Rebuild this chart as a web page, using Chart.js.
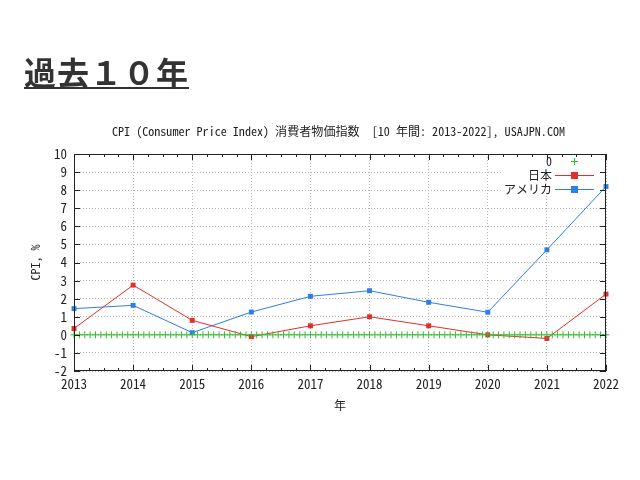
<!DOCTYPE html>
<html>
<head>
<meta charset="utf-8">
<script src="https://cdn.jsdelivr.net/npm/chart.js@4/dist/chart.umd.min.js"></script>
<style>
  html, body { margin: 0; padding: 0; background: #fff; }
  #wrap { position: relative; width: 640px; height: 480px; overflow: hidden; }
  #heading {
    position: absolute; left: 24px; top: 52px;
    font-family: "Noto Sans CJK JP", sans-serif; font-weight: bold;
    font-size: 32px; line-height: 38px; color: #333;
    text-decoration: underline; text-decoration-thickness: 2px; text-underline-offset: 2px;
    letter-spacing: 1px;
  }
  canvas { position: absolute; left: 0; top: 0; }
</style>
</head>
<body>
<div id="wrap">
  <canvas id="c" width="640" height="480"></canvas>
  <div id="heading">過去１０年</div>
</div>
<script>
// ---- data ----
const years = [2013, 2014, 2015, 2016, 2017, 2018, 2019, 2020, 2021, 2022];
const japanCPI = [0.35, 2.75, 0.8, -0.1, 0.5, 1.0, 0.5, 0.0, -0.2, 2.25];
const usaCPI = [1.45, 1.63, 0.12, 1.26, 2.13, 2.44, 1.8, 1.25, 4.7, 8.2];
const zeroValue = 0;          // the "0" reference function
const zeroSamples = 100;      // gnuplot default sampling of a function
const yTicks = [-2, -1, 0, 1, 2, 3, 4, 5, 6, 7, 8, 9, 10];
const seriesNames = ['0', '日本', 'アメリカ'];
const chartTitle = 'CPI (Consumer Price Index) 消費者物価指数  [10 年間: 2013-2022], USAJPN.COM';
const yTitle = 'CPI, %';
const xTitle = '年';

const xMin = years[0], xMax = years[years.length - 1];
const zeroPoints = [];
for (let i = 0; i < zeroSamples; i++) {
  zeroPoints.push({ x: xMin + (xMax - xMin) * i / (zeroSamples - 1), y: zeroValue });
}
const toXY = (arr) => years.map((yr, i) => ({ x: yr, y: arr[i] }));

const RED = '#e0302a', BLUE = '#2f7de8', GREEN = '#33bb33';
const mono = '"Noto Sans Mono CJK JP", "Noto Sans CJK JP", "Liberation Sans Narrow", sans-serif';

function fitText(ctx, text, x, y, width) {
  const w = ctx.measureText(text).width;
  ctx.save();
  ctx.translate(x, y);
  ctx.scale(width / w, 1);
  ctx.fillText(text, 0, 0);
  ctx.restore();
}

const deco = {
  id: 'deco',
  beforeDatasetsDraw(chart) {
    const ctx = chart.ctx;
    ctx.save();
    ctx.fillStyle = '#fff';
    ctx.fillRect(503, 155, 98, 41);
    ctx.restore();
  },
  afterDatasetsDraw(chart) {
    const ctx = chart.ctx, a = chart.chartArea;
    const xs = chart.scales.x, ys = chart.scales.y;
    ctx.save();
    // frame
    ctx.strokeStyle = '#222'; ctx.lineWidth = 1;
    ctx.strokeRect(Math.round(a.left) + 0.5, Math.round(a.top) + 0.5,
                   Math.round(a.right - a.left) - 1, Math.round(a.bottom - a.top) - 1);
    ctx.beginPath();
    for (let v = xMin; v <= xMax + 1e-9; v += 0.25) {
      const px = Math.round(xs.getPixelForValue(v)) + 0.5;
      const major = Math.abs(v - Math.round(v)) < 1e-6;
      const len = major ? 6 : 3;
      ctx.moveTo(px, a.bottom); ctx.lineTo(px, a.bottom - len);
      ctx.moveTo(px, a.top); ctx.lineTo(px, a.top + len);
    }
    yTicks.forEach(v => {
      const py = Math.round(ys.getPixelForValue(v)) + 0.5;
      ctx.moveTo(a.left, py); ctx.lineTo(a.left + 6, py);
      ctx.moveTo(a.right, py); ctx.lineTo(a.right - 6, py);
    });
    ctx.stroke();

    // chart title
    ctx.fillStyle = '#222';
    ctx.font = '12px ' + mono;
    ctx.textAlign = 'left'; ctx.textBaseline = 'middle';
    fitText(ctx, chartTitle, 112, 131, 453);
    ctx.textAlign = 'center';
    ctx.fillText(xTitle, (a.left + a.right) / 2, 405);
    ctx.save();
    ctx.translate(35, (a.top + a.bottom) / 2);
    ctx.rotate(-Math.PI / 2);
    ctx.fillText(yTitle, 0, 0);
    ctx.restore();

    // legend
    const rows = [161, 175, 189];
    ctx.textAlign = 'right';
    seriesNames.forEach((n, i) => ctx.fillText(n, 552, rows[i]));
    ctx.strokeStyle = GREEN; ctx.lineWidth = 1;
    ctx.beginPath();
    ctx.moveTo(571, rows[0] + 0.5); ctx.lineTo(578, rows[0] + 0.5);
    ctx.moveTo(574.5, rows[0] - 3); ctx.lineTo(574.5, rows[0] + 4);
    ctx.stroke();
    [[RED, rows[1]], [BLUE, rows[2]]].forEach(([c, y]) => {
      ctx.strokeStyle = c; ctx.fillStyle = c;
      ctx.beginPath(); ctx.moveTo(555, y + 0.5); ctx.lineTo(594, y + 0.5); ctx.stroke();
      ctx.fillRect(571, y - 3, 7, 7);
    });
    ctx.restore();
  }
};

new Chart(document.getElementById('c'), {
  type: 'scatter',
  data: {
    datasets: [
      { label: seriesNames[0], data: zeroPoints, showLine: false,
        pointStyle: 'cross', pointRadius: 3.5, borderColor: GREEN, borderWidth: 1,
        backgroundColor: GREEN },
      { label: seriesNames[1], data: toXY(japanCPI), showLine: true,
        borderColor: RED, backgroundColor: RED, borderWidth: 1,
        pointStyle: 'rect', pointRadius: 3.5, pointBorderWidth: 0 },
      { label: seriesNames[2], data: toXY(usaCPI), showLine: true,
        borderColor: BLUE, backgroundColor: BLUE, borderWidth: 1,
        pointStyle: 'rect', pointRadius: 3.5, pointBorderWidth: 0 }
    ]
  },
  options: {
    responsive: false, animation: false, devicePixelRatio: 1,
    clip: false,
    layout: { padding: { top: 154, left: 0, right: 34, bottom: 89 } },
    plugins: { legend: { display: false }, title: { display: false }, tooltip: { enabled: false } },
    scales: {
      x: {
        type: 'linear', min: xMin, max: xMax,
        afterFit: (s) => { s.height = 20; },
        ticks: { stepSize: 1, padding: 5, color: '#222', maxRotation: 0, autoSkip: false,
                 font: { family: mono, size: 13 }, callback: (v) => String(v) },
        grid: { color: '#b5b5b5', lineWidth: 1, drawTicks: false },
        border: { display: false, dash: [1, 2] }
      },
      y: {
        min: -2, max: 10,
        afterFit: (s) => { s.width = 74; },
        afterBuildTicks: (s) => { s.ticks = yTicks.map(v => ({ value: v })); },
        ticks: { padding: 7, color: '#222', autoSkip: false, font: { family: mono, size: 13 } },
        grid: { color: '#b5b5b5', lineWidth: 1, drawTicks: false },
        border: { display: false, dash: [1, 2] }
      }
    }
  },
  plugins: [deco]
});
</script>
</body>
</html>
